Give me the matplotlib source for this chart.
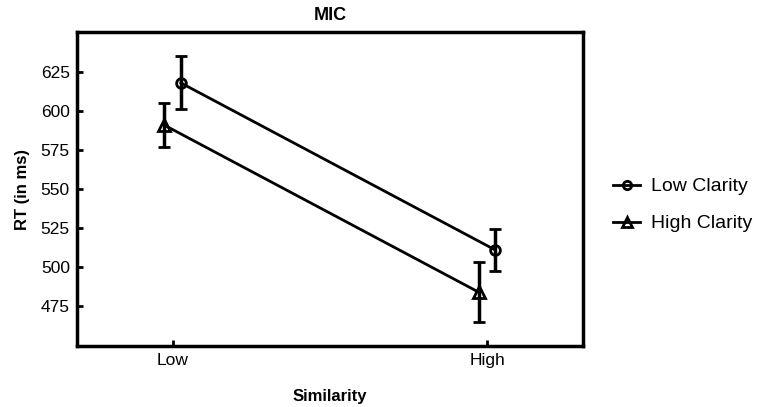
import numpy as np
import matplotlib
matplotlib.use("Agg")
import matplotlib.pyplot as plt
from matplotlib.lines import Line2D

plt.rcParams["font.family"] = ["Liberation Sans", "DejaVu Sans"]

categories = ["Low", "High"]
series_names = ["Low Clarity", "High Clarity"]
low_clarity = [618, 511]
low_clarity_err = [17, 13.5]
high_clarity = [591, 484]
high_clarity_err = [14, 19]


def main():
    fig = plt.figure(figsize=(7.6, 4.07), dpi=100)
    ax = fig.add_axes([0.101, 0.150, 0.666, 0.771])

    x = np.arange(len(categories))
    ax.errorbar(x + 0.026, low_clarity, yerr=low_clarity_err, color="black",
                marker="o", markersize=7, markerfacecolor="none", markeredgewidth=2,
                linewidth=2, elinewidth=2.5, capsize=4, capthick=2.5)
    ax.errorbar(x - 0.027, high_clarity, yerr=high_clarity_err, color="black",
                marker="^", markersize=8, markerfacecolor="none", markeredgewidth=2,
                linewidth=2, elinewidth=2.5, capsize=4, capthick=2.5)

    ax.set_xlim(-0.305, 1.305)
    ax.set_ylim(449.5, 650.5)
    ax.set_xticks(x)
    ax.set_xticklabels(categories)
    ax.set_yticks([475, 500, 525, 550, 575, 600, 625])
    ax.tick_params(direction="in", length=4, width=2, labelsize=12.5, pad=5)
    for s in ax.spines.values():
        s.set_linewidth(2.5)

    ax.set_title("MIC", fontsize=13, fontweight="bold", pad=9)
    ax.set_xlabel("Similarity", fontsize=12, fontweight="bold", labelpad=15)
    ax.set_ylabel("RT (in ms)", fontsize=12, fontweight="bold", labelpad=8)

    handles = [
        Line2D([], [], color="black", linewidth=2, marker="o", markersize=6,
               markerfacecolor="none", markeredgewidth=2),
        Line2D([], [], color="black", linewidth=2, marker="^", markersize=7,
               markerfacecolor="none", markeredgewidth=2),
    ]
    ax.legend(handles, series_names, loc="center left", bbox_to_anchor=(1.025, 0.449),
              frameon=False, fontsize=14, handlelength=1.4, handletextpad=0.55,
              labelspacing=1.0)

    fig.savefig("out.png", dpi=100)


if __name__ == "__main__":
    main()
